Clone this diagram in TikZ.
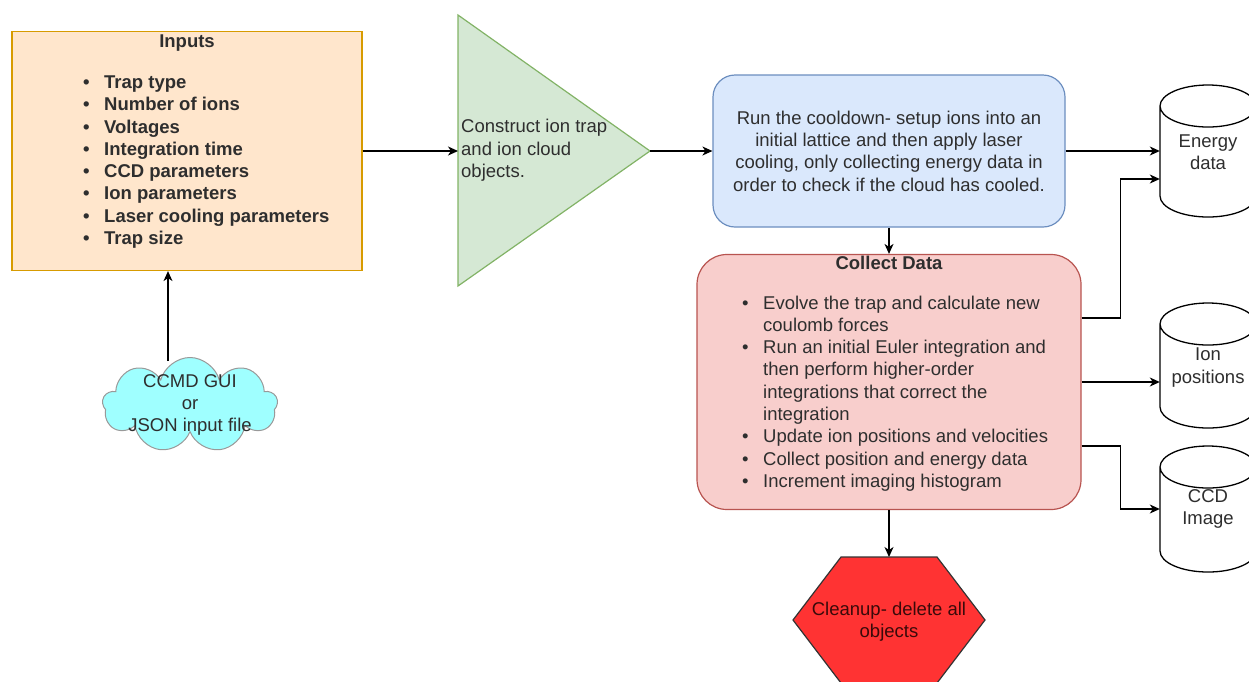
\documentclass[tikz,border=0pt]{standalone}
\usepackage{fontspec}
\setmainfont{Liberation Sans}
\usetikzlibrary{arrows.meta,shapes.symbols}

\definecolor{inpfill}{HTML}{FFE6CC}
\definecolor{inpline}{HTML}{D79B00}
\definecolor{trifill}{HTML}{D5E8D4}
\definecolor{triline}{HTML}{82B366}
\definecolor{coolfill}{HTML}{DAE8FC}
\definecolor{coolline}{HTML}{6C8EBF}
\definecolor{collfill}{HTML}{F8CECC}
\definecolor{collline}{HTML}{B85450}
\definecolor{cleanfill}{HTML}{FF3333}
\definecolor{cleantext}{HTML}{3A0A0A}
\definecolor{cloudfill}{HTML}{9FFFFF}

\newcommand{\bul}{\makebox[21pt][l]{\textbullet}}
\newcommand{\indt}{\hspace*{21pt}}

\begin{document}
\begin{tikzpicture}[x=1pt,y=1pt,
	font=\fontsize{18.5}{22.3}\selectfont,
	every node/.style={text=black!82},
	bold/.style={font=\fontsize{18.5}{22.3}\selectfont\bfseries},
	arr/.style={-{Stealth[length=10pt,width=9pt,inset=3pt]},line width=1.3pt},
	box/.style={draw,line width=1.2pt,inner sep=0pt},
	cyl/.style={draw,line width=1.3pt,fill=white}]

\useasboundingbox (0,0) rectangle (1249,-681);

\node[box,draw=inpline,fill=inpfill,minimum width=350pt,minimum height=239pt] (inp) at (187,-151) {};
\node[bold] (inpt) at (187,-43) {Inputs};
\node[bold,anchor=west,align=left,inner sep=0pt] (inpl) at (83,-162) {
	\bul Trap type\\
	\bul Number of ions\\
	\bul Voltages\\
	\bul Integration time\\
	\bul CCD parameters\\
	\bul Ion parameters\\
	\bul Laser cooling parameters\\
	\bul Trap size};

\draw[box,draw=triline,fill=trifill] (458,-15) -- (650,-151) -- (458,-286) -- cycle;
\coordinate (triw) at (458,-151);
\coordinate (trie) at (650,-151);
\node[anchor=west,align=left,inner sep=0pt] (trit) at (461,-150.5) {Construct ion trap\\and ion cloud\\objects.};

\node[box,draw=coolline,fill=coolfill,rounded corners=22pt,minimum width=352pt,minimum height=152pt,align=center] (cool) at (889,-151)
	{Run the cooldown- setup ions into an\\initial lattice and then apply laser\\cooling, only collecting energy data in\\order to check if the cloud has cooled.};

\node[box,draw=collline,fill=collfill,rounded corners=30pt,minimum width=384pt,minimum height=255pt] (coll) at (889,-382) {};
\node[bold] (collt) at (889,-263) {Collect Data};
\node[anchor=west,align=left,inner sep=0pt] (colll) at (742,-393.5) {
	\bul Evolve the trap and calculate new\\
	\indt coulomb forces\\
	\bul Run an initial Euler integration and\\
	\indt then perform higher-order\\
	\indt integrations that correct the\\
	\indt integration\\
	\bul Update ion positions and velocities\\
	\bul Collect position and energy data\\
	\bul Increment imaging histogram};

\draw[box,draw=black!80,fill=cleanfill] (841,-557) -- (937,-557) -- (985,-620) -- (937,-683) -- (841,-683) -- (793,-620) -- cycle;
\coordinate (hexn) at (889,-557);
\node[align=center,text=cleantext] (clean) at (889,-622) {Cleanup- delete all\\objects};

\node[cloud,cloud puffs=9,aspect=1.8,draw=gray!80,fill=cloudfill,line width=1pt,minimum width=175pt,minimum height=95pt] (gui) at (190,-405) {};
\node[align=center] (guit) at (190,-405) {CCMD GUI\\or\\JSON input file};

\foreach \n/\yc/\yt/\yb/\txt in {en/152.5/106/196/{Energy\\data},
				ion/367.5/324/407/{Ion\\positions},
				ccd/509/467/551/{CCD\\Image}}
{
	\draw[cyl] (1160,-\yt) -- (1160,-\yb) arc[start angle=180,end angle=360,x radius=48pt,y radius=21pt]
		-- (1256,-\yt) arc[start angle=0,end angle=180,x radius=48pt,y radius=21pt]
		arc[start angle=180,end angle=360,x radius=48pt,y radius=21pt];
	\node[minimum width=96pt,inner sep=0pt,align=center] (\n) at (1208,-\yc) {\txt};
};

\foreach \a/\b in {inp.east/triw, trie/cool.west, cool.south/coll.north, coll.south/hexn}
{
	\draw[arr] (\a) -- (\b);
};
\draw[arr] (cool.east) -- (cool.east -| en.west);
\draw[arr] ([yshift=64pt]coll.east) -- ++(39,0) |- ([yshift=-26.5pt]en.west);
\draw[arr] (coll.east) -- (coll.east -| ion.west);
\draw[arr] ([yshift=-64pt]coll.east) -- ++(39,0) |- (ccd.west);

\coordinate (guitop) at (168,-361);
\draw[arr] (guitop) -- (guitop |- inp.south);
\end{tikzpicture}
\end{document}
